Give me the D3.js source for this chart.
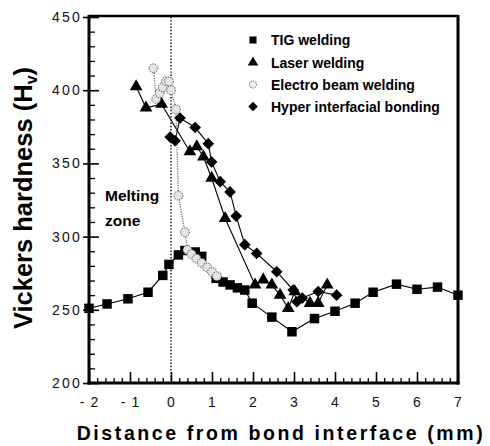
<!DOCTYPE html>
<html>
<head>
<meta charset="utf-8">
<script src="https://cdn.jsdelivr.net/npm/d3@7"></script>
<style>
  html,body{margin:0;padding:0;background:#fff;}
  svg text{font-family:"Liberation Sans",Arial,sans-serif;}
</style>
</head>
<body>
<svg id="chart" width="490" height="446"></svg>
<script>
// hardness profile across the bond interface

const tigX   = [-2, -1.56, -1.05, -0.56, -0.2, -0.05, 0.18, 0.34, 0.59, 0.75, 1.1, 1.27, 1.44, 1.62, 1.8, 1.98, 2.46, 2.95, 3.5, 4.0, 4.49, 4.93, 5.5, 6.0, 6.5, 7.0];
const tigY   = [251, 254, 257.5, 262, 273.5, 281, 287.5, 290.5, 289.5, 286.5, 271.5, 269, 267, 265, 263.5, 254.5, 245, 235, 244, 249, 254.5, 262, 267.5, 264, 265.5, 260];

const laserX = [-0.85, -0.61, -0.23, 0.46, 0.63, 0.79, 0.99, 1.32, 2.05, 2.25, 2.46, 2.66, 2.86, 3.02, 3.39, 3.59, 3.81];
const laserY = [402.5, 388, 390.5, 358, 361.5, 354.5, 340, 312.5, 267, 270.5, 267, 260, 251, 262.5, 254.5, 254.5, 267];

const ebwX   = [-0.43, -0.36, -0.28, -0.2, -0.12, -0.05, 0.0, 0.12, 0.18, 0.34, 0.4, 0.5, 0.62, 0.75, 0.88, 1.0, 1.12];
const ebwY   = [415, 394, 398, 402, 406, 406, 400, 387, 328, 303, 291, 288, 285, 282, 279, 276, 273];

const hibX   = [-0.02, 0.1, 0.22, 0.59, 0.91, 0.99, 1.2, 1.44, 1.59, 1.8, 2.09, 2.58, 2.98, 3.07, 3.2, 3.59, 4.04];
const hibY   = [368, 365.5, 381, 374.5, 363.5, 351, 337.5, 330.5, 314, 294.5, 288.5, 276, 263.5, 255.5, 258, 262.5, 260];

const xTicks = [-2, -1, 0, 1, 2, 3, 4, 5, 6, 7];
const yTicks = [200, 250, 300, 350, 400, 450];
const seriesNames = ["TIG welding", "Laser welding", "Electro beam welding", "Hyper interfacial bonding"];

const svg = d3.select("#chart");
const L = 89, R = 458, T = 17, B = 383;

const x = d3.scaleLinear().domain([-2, 7]).range([L, R]);
const y = d3.scaleLinear().domain([200, 450]).range([B, T]);

// minor ticks
const xMinor = d3.range(-2, 7.001, 0.2).filter(v => Math.abs(v - Math.round(v)) > 1e-6);
const yMinor = d3.range(200, 451, 10).filter(v => v % 50 !== 0);

svg.append("g").attr("transform", `translate(0,${B})`)
  .call(d3.axisBottom(x).tickValues(xMinor).tickSize(-5).tickFormat(""))
  .call(a => a.select(".domain").remove())
  .call(a => a.selectAll("line").attr("stroke", "#000").attr("stroke-width", 1.3));
svg.append("g").attr("transform", `translate(${L},0)`)
  .call(d3.axisLeft(y).tickValues(yMinor).tickSize(-6).tickFormat(""))
  .call(a => a.select(".domain").remove())
  .call(a => a.selectAll("line").attr("stroke", "#000").attr("stroke-width", 1.3));

// major ticks + labels
svg.append("g").attr("transform", `translate(0,${B})`)
  .call(d3.axisBottom(x).tickValues(xTicks).tickSize(-11).tickPadding(14)
    .tickFormat(d => d < 0 ? "- " + Math.abs(d) : String(d)))
  .call(a => a.select(".domain").remove())
  .call(a => a.selectAll("line").attr("stroke", "#000").attr("stroke-width", 1.6))
  .call(a => a.selectAll("text").attr("fill", "#111")
    .style("font-size", "14px").style("letter-spacing", "1px"));

svg.append("g").attr("transform", `translate(${L},0)`)
  .call(d3.axisLeft(y).tickValues(yTicks).tickSize(-10).tickPadding(7))
  .call(a => a.select(".domain").remove())
  .call(a => a.selectAll("line").attr("x1", -6).attr("stroke", "#000").attr("stroke-width", 1.6))
  .call(a => a.selectAll("text").attr("fill", "#111")
    .style("font-size", "14px").style("letter-spacing", "2.2px"));

// frame
svg.append("line").attr("x1", L).attr("x2", R).attr("y1", T - 1).attr("y2", T - 1)
  .attr("stroke", "#000").attr("stroke-width", 2.6);
svg.append("line").attr("x1", R).attr("x2", R).attr("y1", T - 2).attr("y2", B + 1.5)
  .attr("stroke", "#000").attr("stroke-width", 3);
svg.append("line").attr("x1", L).attr("x2", L).attr("y1", T - 2).attr("y2", B + 1.5)
  .attr("stroke", "#000").attr("stroke-width", 3);
svg.append("line").attr("x1", L - 1.5).attr("x2", R + 1.5).attr("y1", B).attr("y2", B)
  .attr("stroke", "#000").attr("stroke-width", 3);

// interface line
svg.append("line").attr("x1", x(0)).attr("x2", x(0)).attr("y1", T).attr("y2", B)
  .attr("stroke", "#000").attr("stroke-width", 1.4).attr("stroke-dasharray", "1.4,1.8");

const line = d3.line().x(d => x(d[0])).y(d => y(d[1]));
const pts = (xs, ys) => xs.map((v, i) => [v, ys[i]]);

const tig = pts(tigX, tigY), laser = pts(laserX, laserY), ebw = pts(ebwX, ebwY), hib = pts(hibX, hibY);

// lines
[tig, laser, hib].forEach(s => {
  svg.append("path").attr("d", line(s)).attr("fill", "none")
    .attr("stroke", "#000").attr("stroke-width", 1.1);
});
svg.append("path").attr("d", line(ebw)).attr("fill", "none")
  .attr("stroke", "#666").attr("stroke-width", 1.2).attr("stroke-dasharray", "1.2,1.2");

// markers
const sym = (type, size) => d3.symbol().type(type).size(size)();
function drawSym(data, type, size, rot){
  svg.append("g").selectAll("path").data(data).join("path")
    .attr("transform", d => `translate(${x(d[0])},${y(d[1])}) rotate(${rot || 0})`)
    .attr("d", sym(type, size)).attr("fill", "#000");
}
drawSym(tig, d3.symbolSquare, 90);
drawSym(laser, d3.symbolTriangle, 70);
drawSym(hib, d3.symbolSquare, 68, 45);

svg.append("g").selectAll("circle").data(ebw).join("circle")
  .attr("cx", d => x(d[0])).attr("cy", d => y(d[1])).attr("r", 4.4)
  .attr("fill", "#e4e4e4").attr("stroke", "#666").attr("stroke-width", 1.1)
  .attr("stroke-dasharray", "1.2,1.2");

// melting zone note
svg.append("text").attr("x", 105).attr("y", 201).attr("fill", "#000")
  .style("font-size", "15.5px").style("font-weight", "bold").text("Melting");
svg.append("text").attr("x", 105).attr("y", 226).attr("fill", "#000")
  .style("font-size", "15.5px").style("font-weight", "bold").text("zone");

// legend
const legY = [40, 62.5, 84.5, 106.5];
const legX = 253;
svg.append("path").attr("transform", `translate(${legX},${legY[0]})`).attr("d", sym(d3.symbolSquare, 50)).attr("fill", "#000");
svg.append("path").attr("transform", `translate(${legX},${legY[1]})`).attr("d", sym(d3.symbolTriangle, 48)).attr("fill", "#000");
svg.append("circle").attr("cx", legX).attr("cy", legY[2]).attr("r", 3.6)
  .attr("fill", "#eee").attr("stroke", "#777").attr("stroke-width", 1.1).attr("stroke-dasharray", "1.2,1.2");
svg.append("path").attr("transform", `translate(${legX},${legY[3]}) rotate(45)`).attr("d", sym(d3.symbolSquare, 45)).attr("fill", "#000");
svg.append("g").selectAll("text").data(seriesNames).join("text")
  .attr("x", 271).attr("y", (d, i) => legY[i] + 5)
  .attr("fill", "#000").style("font-size", "14px").style("font-weight", "bold")
  .text(d => d);

// axis titles
svg.append("text").attr("x", 281).attr("y", 440).attr("text-anchor", "middle")
  .attr("fill", "#000").style("font-size", "19.5px").style("font-weight", "bold")
  .style("letter-spacing", "2.6px")
  .text("Distance from bond interface (mm)");

const yt = svg.append("text").attr("transform", "translate(32,198) rotate(-90)")
  .attr("text-anchor", "middle").attr("fill", "#000")
  .style("font-size", "25.5px").style("font-weight", "bold");
yt.append("tspan").text("Vickers hardness (H");
yt.append("tspan").attr("dy", 5).style("font-size", "16px").text("v");
yt.append("tspan").attr("dy", -5).text(")");
</script>
</body>
</html>
